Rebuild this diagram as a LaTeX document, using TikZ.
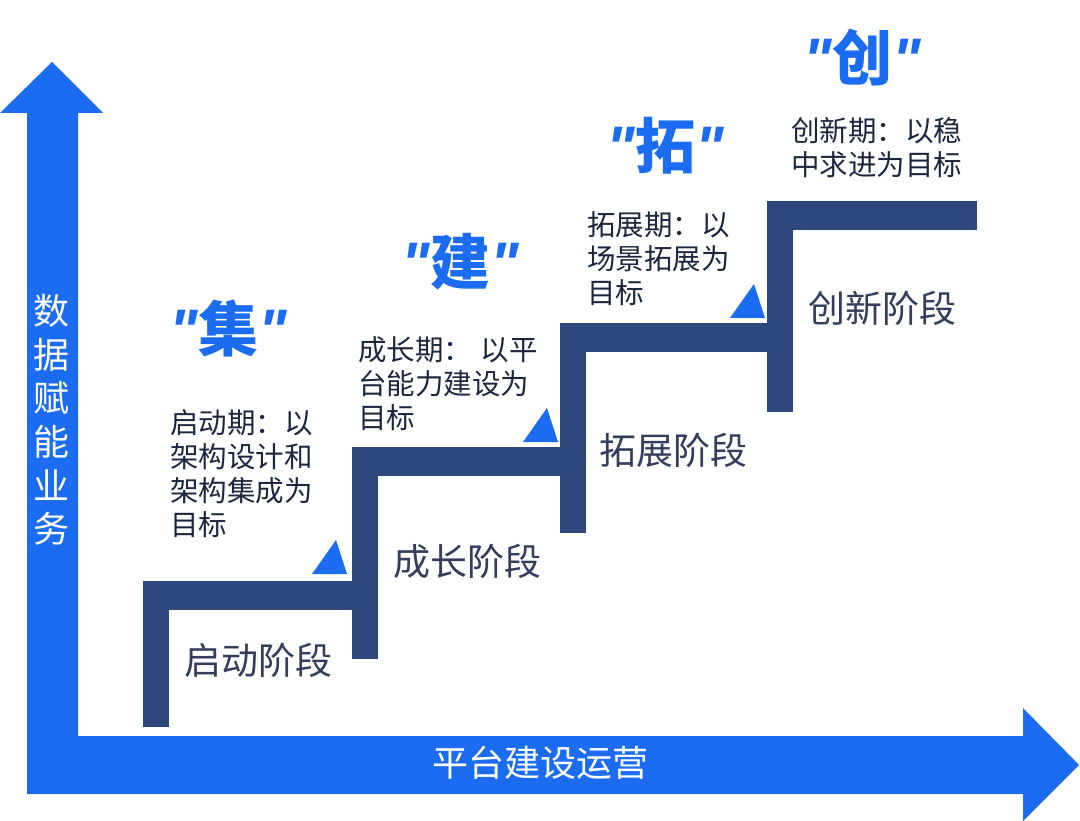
\documentclass[tikz,border=0pt]{standalone}
\usepackage{fontspec}
\setmainfont{Noto Sans CJK SC}
\newfontfamily\quotefont{Liberation Sans}
\usepackage{tikz}
\usetikzlibrary{positioning}
\definecolor{colarrow}{RGB}{27,108,240}
\definecolor{colstep}{RGB}{46,72,126}
\definecolor{coltext}{RGB}{28,38,62}
\definecolor{colstage}{RGB}{52,62,92}
\newcommand{\qmark}{{\quotefont\bfseries\itshape"}}

\begin{document}
\begin{tikzpicture}[x=1pt,y=-1pt,
    goal/.style={anchor=north west,align=left,inner sep=0pt,text=coltext,font=\fontsize{28.5}{34}\selectfont},
    stage/.style={inner sep=0pt,text=colstage,font=\fontsize{37}{40}\selectfont},
    keyword/.style={inner sep=0pt,text=colarrow,font=\fontsize{60}{64}\selectfont\bfseries},
    axislabel/.style={inner sep=0pt,text=white,font=\fontsize{36}{43.7}\selectfont}]
    \useasboundingbox (0,0) rectangle (1080,821);
    \fill[colarrow] (27,794) -- (27,113) -- (0,113) -- (52,62) -- (103,113) -- (78,113)
        -- (78,736) -- (1023,736) -- (1023,708) -- (1079,765) -- (1023,821) -- (1023,794) -- cycle;
    \foreach \x/\y/\b/\w in {143/581/727/209, 352/447/659/208, 560/323/533/208, 767/201/412/210} {
        \fill[colstep] (\x,\y) rectangle ++(26,\b-\y);
        \fill[colstep] (\x,\y) rectangle ++(\w,29);
    }
    \foreach \x/\y in {312/574, 523/442, 730/318}
        \fill[colarrow] (\x,\y) -- ++(24,-34) -- ++(11,34) -- cycle;
    \node[axislabel,align=center] (vaxis) at (52,420) {数\\据\\赋\\能\\业\\务};
    \node[axislabel] (haxis) at (540,763) {平台建设运营};
    \node[stage] (start) at (258,660) {启动阶段};
    \node[stage] (grow) at (467,561) {成长阶段};
    \node[stage] (expand) at (673,450) {拓展阶段};
    \node[stage] (innov) at (882,308) {创新阶段};
    \node[goal] (gstart) at (170,409) {启动期：以\\架构设计和\\架构集成为\\目标};
    \node[goal] (ggrow) at (358,336) {成长期：\hspace{0.3em}以平\\台能力建设为\\目标};
    \node[goal] (gexpand) at (587,211) {拓展期：以\\场景拓展为\\目标};
    \node[goal] (ginnov) at (791,117) {创新期：以稳\\中求进为目标};
    \node[keyword] (kstart) at (228,328) {\qmark 集\qmark};
    \node[keyword] (kgrow) at (460,262) {\qmark 建\qmark};
    \node[keyword] (kexpand) at (665,146) {\qmark 拓\qmark};
    \node[keyword] (kinnov) at (862,58) {\qmark 创\qmark};
\end{tikzpicture}
\end{document}
